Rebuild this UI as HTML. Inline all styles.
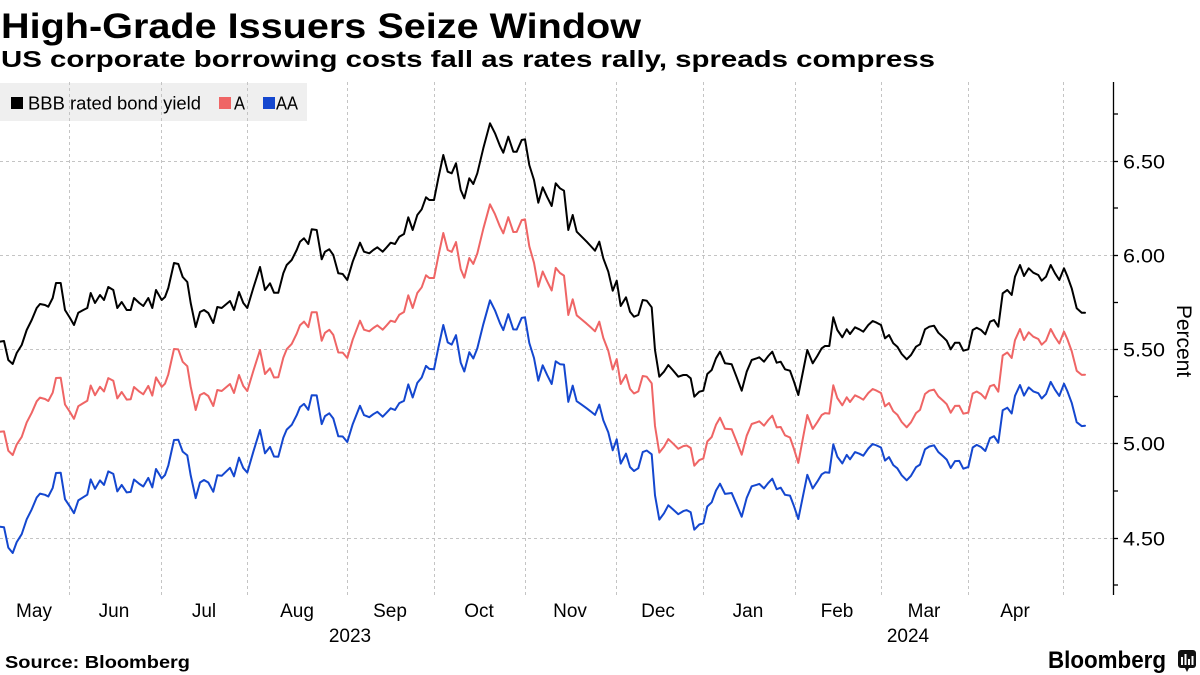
<!DOCTYPE html>
<html>
<head>
<meta charset="utf-8">
<style>
  html, body { margin: 0; padding: 0; background: #ffffff; }
  svg { display: block; }
  text { font-family: "Liberation Sans", "DejaVu Sans", sans-serif; }
</style>
</head>
<body>
<svg width="1200" height="675" viewBox="0 0 1200 675" xmlns="http://www.w3.org/2000/svg">
  <rect x="0" y="0" width="1200" height="675" fill="#ffffff"/>

  <!-- Title & subtitle -->
  <text x="1" y="38" font-size="35" font-weight="bold" fill="#000" textLength="640" lengthAdjust="spacingAndGlyphs">High-Grade Issuers Seize Window</text>
  <text x="1" y="67" font-size="23" font-weight="bold" fill="#000" textLength="934" lengthAdjust="spacingAndGlyphs">US corporate borrowing costs fall as rates rally, spreads compress</text>

  <!-- Legend background -->
  <rect x="0" y="83" width="307" height="38" fill="#efefef"/>

  <!-- Horizontal gridlines -->
  <g stroke="#c4c4c4" stroke-width="1" stroke-dasharray="3,3" fill="none">
    <line x1="0" y1="161.5" x2="1113" y2="161.5"/>
    <line x1="0" y1="255.5" x2="1113" y2="255.5"/>
    <line x1="0" y1="349.5" x2="1113" y2="349.5"/>
    <line x1="0" y1="443.5" x2="1113" y2="443.5"/>
    <line x1="0" y1="538.5" x2="1113" y2="538.5"/>
  </g>
  <!-- Vertical gridlines -->
  <g stroke="#c4c4c4" stroke-width="1" stroke-dasharray="3,3" fill="none">
    <line x1="69.5" y1="82" x2="69.5" y2="595"/>
    <line x1="161.5" y1="82" x2="161.5" y2="595"/>
    <line x1="247.5" y1="82" x2="247.5" y2="595"/>
    <line x1="347.5" y1="82" x2="347.5" y2="595"/>
    <line x1="434.5" y1="82" x2="434.5" y2="595"/>
    <line x1="525.5" y1="82" x2="525.5" y2="595"/>
    <line x1="616.5" y1="82" x2="616.5" y2="595"/>
    <line x1="703.5" y1="82" x2="703.5" y2="595"/>
    <line x1="795.5" y1="82" x2="795.5" y2="595"/>
    <line x1="881.5" y1="82" x2="881.5" y2="595"/>
    <line x1="968.5" y1="82" x2="968.5" y2="595"/>
    <line x1="1063.5" y1="82" x2="1063.5" y2="595"/>
  </g>

  <!-- Legend items -->
  <rect x="11" y="97" width="12" height="12" fill="#000"/>
  <text x="28" y="109.5" font-size="18.5" fill="#000" textLength="173" lengthAdjust="spacingAndGlyphs">BBB rated bond yield</text>
  <rect x="219" y="97" width="12" height="12" fill="#ef6565"/>
  <text x="234" y="109.5" font-size="18.5" fill="#000" textLength="11" lengthAdjust="spacingAndGlyphs">A</text>
  <rect x="263" y="97" width="12" height="12" fill="#1447cf"/>
  <text x="276" y="109.5" font-size="18.5" fill="#000" textLength="22" lengthAdjust="spacingAndGlyphs">AA</text>

  <!-- Series -->
  <g fill="none" stroke-width="2" stroke-linejoin="round" stroke-linecap="round">
    <polyline stroke="#1447cf" points="0,526.7 4,527.2 8.3,547.6 12.7,553 16.7,542.1 21.7,534.2 26.7,519.3 31.7,509.4 36.7,497.5 40,493.6 45,494.8 48.3,496.5 52.7,487.9 56,473 60.7,472.7 65,499.2 70,506.7 74,513.2 78.3,500.4 83.3,497.2 87.3,494.7 90.7,479.4 95,488.9 100,480.4 104,484.9 108.3,471.4 113.3,473.9 117.3,491.4 121.7,484.9 126.7,492.4 130.7,491.9 134,479.5 139.3,483.9 143.3,486.5 148.3,477.9 152.3,487.4 156,469 161.7,478.4 165,475 168.3,465.6 174,440 178.3,439.8 182.7,451.6 187.3,455.4 190.7,475.4 195.7,498.1 200,482.5 204,480 208.3,482.5 213.3,491.8 217.3,475.3 221.7,475.8 230,467.8 234,476.3 239,457.6 243.3,468.1 247.3,472.6 253.3,451.8 260,430 265,453.3 270,446.9 274,456.5 278.3,456.8 283.3,437.7 286.7,429.6 291.7,424.9 296.7,415.2 300,407.1 304,403.9 308.3,409.8 311.7,395.2 316.7,395.4 321.7,424.1 325,416.1 329.3,413.3 333.3,418.5 338.3,436.3 342.7,436.5 347.3,442 352.7,424.2 360,405.8 364,415.1 369.3,417.2 373.3,414.2 377.3,411.8 382.7,416.7 386.7,412.6 390.7,408.3 395,410 399.3,403.1 404,400.8 408.3,384.4 412.7,397.5 417.3,382.9 421.7,377.5 426,365.9 429.3,368.9 434,369.3 438.3,347.9 443.3,325 447.7,342.4 451.7,344.6 456,335.2 460.7,362.6 464.3,371.5 469.3,352.2 473.3,358.5 477.3,348.4 483.3,324.3 490,300.3 495,310.4 500,323.3 503.3,330.1 508.3,314.2 513.3,329.4 516.7,329.5 521.7,317.9 525,317.3 529.3,343 534,358 538.3,380.7 542.7,365.3 547.3,375.3 551.7,384 555.7,361.3 560,364.2 564,364.6 568.3,401.9 572.7,385.6 576.7,401.2 581.7,404.7 586.7,408.3 590.7,411.4 595,414.9 599.3,404.6 603.3,420.2 608.3,432.4 612.7,450.3 616.7,439.3 620.7,463.6 626,453.6 630,467 634,471 638.3,468.2 642.7,452.1 646.7,450.5 651.7,454.3 655,495.3 659.3,519.6 664,513.3 668.3,505.3 672.7,509.1 678.3,514.2 683.3,511.1 686.7,510.1 690.7,512.3 694.3,529.7 699.3,524.5 703.3,523.3 707.3,506.5 711.7,502.3 716,490.5 720,483.7 725,493.9 731.7,493 736.7,504.7 741.7,516.7 746.7,497.9 751.7,486.3 756.7,484.8 759.3,483.9 764,488.4 768.3,482.9 772.3,478.7 776.7,489.2 780.7,487.7 785,494.8 790,495.6 794,506.2 798.3,519 803.3,494.4 807.3,474.8 812.7,488.5 817.3,481.6 821.7,474.3 825,472.3 829.3,472.7 833.3,444.3 837.3,456.6 842.3,463.4 846.7,454.9 850,459.3 855,452.1 859.3,453.7 863.3,455.7 868.3,448.5 872.7,444 876.7,445.5 881,447.5 885,460.6 889,457.1 893.3,465.1 897.3,468.3 901.7,475.3 906.7,480.3 911,475.8 916,467.2 920,464.6 925,449.3 929.3,446.5 934,445.3 938.3,452 943.3,456.4 946.7,459.6 950.7,468 955,461.1 959.3,460.9 963.3,468.7 968.3,467 972.7,447.5 976.7,444.9 981,447 985.3,451 990,438.2 994,436.2 998.3,442.7 1002.7,410.2 1007.3,407.7 1011.7,413.5 1015,395.8 1020,385 1024,395.6 1028.7,387.4 1033.3,391.4 1038.3,393.2 1041.7,398.5 1046,394.1 1050.7,381.9 1055,389.7 1059.3,395.9 1064,383.7 1067.3,391 1071.7,402.8 1076.7,422.2 1081.7,426.1 1085,425.7"/>
    <polyline stroke="#ef6565" points="0,431.7 4,431.4 8.3,450.7 12.7,455.1 16.7,444.5 21.7,436.9 26.7,422.4 31.7,412.8 36.7,401.3 40,397.6 45,399 48.3,401 52.7,392.7 56,378 60.7,377.8 65,404.5 70,412.1 74,418.8 78.3,406.2 83.3,403.1 87.3,400.8 90.7,385.5 95,395.2 100,386.8 104,391.5 108.3,378.1 113.3,380.7 117.3,398.4 121.7,392 126.7,399.6 130.7,399.3 134,387 139.3,391.6 143.3,394.3 148.3,385.9 152.3,395.6 156,377.4 161.7,386.9 165,383.7 168.3,374.4 174,349 178.3,349.4 182.7,361.8 187.3,366.2 190.7,386.7 195.7,410 200,395 204,393 208.3,396 213.3,406 217.3,390 221.7,391 230,384 234,393 239,375 243.3,386 247.3,391 253.3,371 260,350 265,374 270,368.3 274,377.5 278.3,377.3 283.3,357.7 286.7,349.2 291.7,343.9 296.7,333.7 300,325.2 304,321.6 308.3,327.1 311.7,312.2 316.7,312.2 321.7,340.8 325,332.8 329.3,329.8 333.3,334.9 338.3,352.5 342.7,352.6 347.3,358 352.7,339.7 360,320.7 364,329.7 369.3,331.3 373.3,328 377.3,325.3 382.7,329.7 386.7,325.3 390.7,320.7 395,322 399.3,314.7 404,312 408.3,295.3 412.7,308 417.3,293 421.7,287.3 426,275.3 429.3,278 434,278 438.3,256.3 443.3,233 447.7,250 451.7,251.9 456,242.1 460.7,269.1 464.3,277.7 469.3,258 473.3,263.9 477.3,253.5 483.3,228.8 490,204.3 495,214.2 500,226.7 503.3,233.3 508.3,217.2 513.3,232 516.7,231.9 521.7,220.1 525,219.3 529.3,246.3 534,262.8 538.3,286.7 542.7,271.5 547.3,281.6 551.7,290.5 555.7,267.9 560,273 564,275.6 568.3,315 572.7,299.3 576.7,315.3 581.7,319.5 586.7,323.7 590.7,327.3 595,331.3 599.3,321.7 603.3,337.9 608.3,350.9 612.7,369.5 616.7,359.1 620.7,384 626,374.8 630,388.9 634,393.5 638.3,391.4 642.7,376 646.7,376.7 651.7,383.3 655,426 659.3,452.6 664,446.7 668.3,439.1 672.7,443.2 678.3,448.8 683.3,446.1 686.7,445.5 690.7,448 694.3,465.7 699.3,460.1 703.3,458.6 707.3,441.5 711.7,437 716,424.8 720,417.7 725,428.8 731.7,429.2 736.7,441.8 741.7,454.7 746.7,435.7 751.7,424 756.7,422.3 759.3,421.3 764,425.7 768.3,420 772.3,415.7 776.7,427.4 780.7,427 785,435.3 790,437.5 794,449.1 798.3,462.9 803.3,436.2 807.3,415 812.7,428.9 817.3,422.2 821.7,415 825,413.1 829.3,413.6 833.3,385.3 837.3,398 842.3,405.3 846.7,397.3 850,402 855,395.3 859.3,397.3 863.3,399.7 868.3,393 872.7,389 876.7,390.7 881,393 885,406.3 889,403 893.3,411.3 897.3,414.7 901.7,422 906.7,427.3 911,422.3 916,413.1 920,409.9 925,394 929.3,390.7 934,389.6 938.3,396.4 943.3,400.9 946.7,404.2 950.7,412.7 955,405.9 959.3,405.8 963.3,413.7 968.3,412.6 972.7,393.5 976.7,391.5 981,394 985.3,398.6 990,386.2 994,384.8 998.3,391.7 1002.7,355.5 1007.3,352.5 1011.7,358 1015,340.1 1020,329 1024,340 1028.7,332.3 1033.3,336.7 1038.3,339 1041.7,344.7 1046,340.7 1050.7,329 1055,337 1059.3,343.5 1064,331.5 1067.3,339 1071.7,351.1 1076.7,370.8 1081.7,374.9 1085,374.7"/>
    <polyline stroke="#000000" points="0,341.7 4,341 8.3,360 12.7,364 16.7,353 21.7,345 26.7,330 31.7,320 36.7,308 40,304 45,305 48.3,306.7 52.7,298 56,283 60.7,283 65,310 70,318 74,325 78.3,312.7 83.3,310 87.3,308 90.7,293 95,303 100,295 104,300 108.3,287 113.3,290 117.3,308 121.7,302 126.7,310 130.7,310 134,298 139.3,303 143.3,306 148.3,298 152.3,308 156,290 161.7,300 165,297 168.3,288 174,263 178.3,264 182.7,277 187.3,282 190.7,303 195.7,327 200,312 204,310 208.3,313 213.3,323 217.3,307 221.7,308 230,301 234,310 239,292 243.3,303 247.3,308 253.3,288 260,267 265,290 270,283.3 274,292.7 278.3,292.7 283.3,273.3 286.7,265 291.7,260 296.7,250 300,241.7 304,238.3 308.3,244 311.7,229.3 316.7,230 321.7,259.3 325,251.7 329.3,249.3 333.3,255 338.3,273.3 342.7,274 347.3,280 352.7,261.7 360,242.7 364,251.7 369.3,253.3 373.3,250 377.3,247.3 382.7,251.7 386.7,247.3 390.7,242.7 395,244 399.3,236.7 404,234 408.3,217.3 412.7,230 417.3,215 421.7,209.3 426,197.3 429.3,200 434,200 438.3,178.3 443.3,155 447.7,171.7 451.7,173.3 456,163.3 460.7,190 464.3,198.3 469.3,178.3 473.3,184 477.3,173.3 483.3,148.3 490,123.3 495,133.3 500,146 503.3,152.7 508.3,136.7 513.3,151.7 516.7,151.7 521.7,140 525,139.3 529.3,165 534,180 538.3,202.7 542.7,187.3 547.3,197.3 551.7,206 555.7,183.3 560,188.3 564,190.7 568.3,230 572.7,215 576.7,231.7 581.7,236.7 586.7,241.7 590.7,246 595,250.7 599.3,241.7 603.3,258.3 608.3,271.7 612.7,290.7 616.7,280.7 620.7,306 626,297.3 630,311.7 634,316.7 638.3,315 642.7,300 646.7,300.7 651.7,307.3 655,350 659.3,376.7 664,371.7 668.3,365 672.7,370 678.3,376.7 683.3,375 686.7,375 690.7,378.3 694.3,396.7 699.3,391.7 703.3,390.7 707.3,374 711.7,370 716,358.3 720,351.7 725,363.3 731.7,364.3 736.7,377.3 741.7,390.7 746.7,371.7 751.7,360 756.7,358.3 759.3,357.3 764,361.7 768.3,356 772.3,351.7 776.7,362.7 780.7,361.7 785,369.3 790,370.7 794,381.7 798.3,395 803.3,370 807.3,350 812.7,363.3 817.3,356 821.7,348.3 825,346 829.3,346 833.3,317.3 837.3,330 842.3,337.3 846.7,329.3 850,334 855,327.3 859.3,329.3 863.3,331.7 868.3,325 872.7,321 876.7,322.7 881,325 885,338.3 889,335 893.3,343.3 897.3,346.7 901.7,354 906.7,359.3 911,355 916,346.7 920,344.3 925,329.3 929.3,326.7 934,325.7 938.3,332.7 943.3,337.3 946.7,340.7 950.7,349.3 955,342.7 959.3,342.7 963.3,350.7 968.3,349.3 972.7,330 976.7,327.7 981,330 985.3,334.3 990,321.7 994,320 998.3,326.7 1002.7,293.3 1007.3,290 1011.7,295 1015,276.7 1020,265 1024,276 1028.7,268.3 1033.3,272.7 1038.3,275 1041.7,280.7 1046,276.7 1050.7,265 1055,273.3 1059.3,280 1064,268.3 1067.3,276 1071.7,288.3 1076.7,308.3 1081.7,312.7 1085,312.7"/>
  </g>

  <!-- Right axis -->
  <line x1="1113.5" y1="82" x2="1113.5" y2="595" stroke="#000" stroke-width="1.3"/>
  <g stroke="#000" stroke-width="1.3">
    <line x1="1113" y1="114" x2="1118" y2="114"/>
    <line x1="1113" y1="161.5" x2="1118" y2="161.5"/>
    <line x1="1113" y1="208" x2="1118" y2="208"/>
    <line x1="1113" y1="255.5" x2="1118" y2="255.5"/>
    <line x1="1113" y1="302.5" x2="1118" y2="302.5"/>
    <line x1="1113" y1="349.5" x2="1118" y2="349.5"/>
    <line x1="1113" y1="396.5" x2="1118" y2="396.5"/>
    <line x1="1113" y1="443.5" x2="1118" y2="443.5"/>
    <line x1="1113" y1="491" x2="1118" y2="491"/>
    <line x1="1113" y1="538.5" x2="1118" y2="538.5"/>
    <line x1="1113" y1="585" x2="1118" y2="585"/>
  </g>
  <g font-size="19.5" fill="#000">
    <text x="1123" y="168.5" textLength="42" lengthAdjust="spacingAndGlyphs">6.50</text>
    <text x="1123" y="262.5" textLength="42" lengthAdjust="spacingAndGlyphs">6.00</text>
    <text x="1123" y="356.5" textLength="42" lengthAdjust="spacingAndGlyphs">5.50</text>
    <text x="1123" y="450.5" textLength="42" lengthAdjust="spacingAndGlyphs">5.00</text>
    <text x="1123" y="545.5" textLength="42" lengthAdjust="spacingAndGlyphs">4.50</text>
  </g>
  <text transform="translate(1177,341) rotate(90)" text-anchor="middle" font-size="21" fill="#000">Percent</text>

  <!-- X axis labels -->
  <g font-size="19" fill="#000" text-anchor="middle">
    <text x="34" y="617">May</text>
    <text x="114" y="617">Jun</text>
    <text x="204" y="617">Jul</text>
    <text x="297" y="617">Aug</text>
    <text x="390" y="617">Sep</text>
    <text x="479" y="617">Oct</text>
    <text x="570" y="617">Nov</text>
    <text x="658" y="617">Dec</text>
    <text x="748" y="617">Jan</text>
    <text x="837" y="617">Feb</text>
    <text x="924" y="617">Mar</text>
    <text x="1015" y="617">Apr</text>
    <text x="350" y="642">2023</text>
    <text x="908" y="642">2024</text>
  </g>

  <!-- Footer -->
  <text x="5" y="668" font-size="17.5" font-weight="bold" fill="#000" textLength="185" lengthAdjust="spacingAndGlyphs">Source: Bloomberg</text>
  <text x="1048" y="668" font-size="24" font-weight="bold" fill="#000" textLength="118" lengthAdjust="spacingAndGlyphs">Bloomberg</text>
  <g>
    <rect x="1178" y="650" width="18" height="18" rx="3" fill="#111"/>
    <polygon points="1185,668 1189,668 1187,672" fill="#111"/>
    <rect x="1181" y="657" width="2" height="8" fill="#fff"/>
    <rect x="1184.5" y="654" width="2" height="11" fill="#fff"/>
    <rect x="1188" y="659" width="2" height="6" fill="#fff"/>
    <rect x="1191.5" y="656" width="2" height="9" fill="#fff"/>
  </g>
</svg>
</body>
</html>
